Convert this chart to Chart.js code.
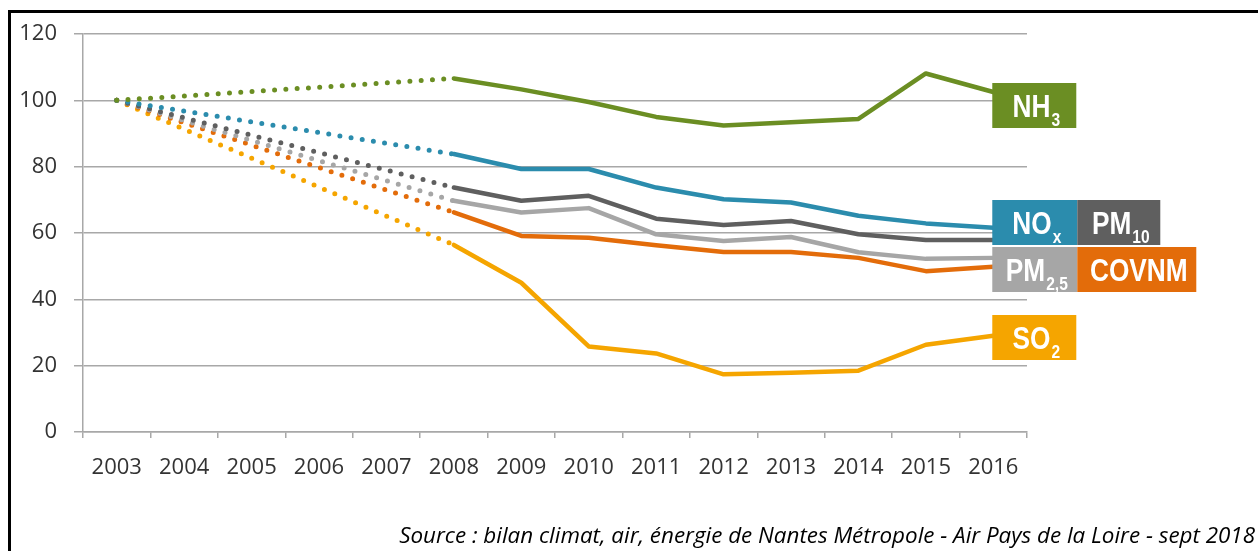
<!DOCTYPE html>
<html>
<head>
<meta charset="utf-8">
<script src="https://cdn.jsdelivr.net/npm/chart.js@4/dist/chart.umd.min.js"></script>
<style>
  body { margin: 0; background: #fff; }
  #wrap { position: absolute; left: 0; top: 0; width: 1258px; height: 551px; overflow: hidden; }
  #frame { position: absolute; left: 8px; top: 10px; width: 1300px; height: 600px;
           border-top: 3px solid #000; border-left: 3px solid #000; }
  #chart { position: absolute; left: 0; top: 0; }
  #source { position: absolute; right: 3px; top: 519px; white-space: nowrap;
            font: italic 22.4px "Open Sans", sans-serif; color: #000; }
</style>
</head>
<body>
<div id="wrap">
  <div id="frame"></div>
  <canvas id="chart" width="1258" height="551"></canvas>
  <div id="source">Source : bilan climat, air, énergie de Nantes Métropole - Air Pays de la Loire - sept 2018</div>
</div>
<script>
// indice base 100 en 2003, pas de valeurs entre 2004 et 2007
var years = ['2003', '2004', '2005', '2006', '2007', '2008', '2009', '2010', '2011', '2012', '2013', '2014', '2015', '2016'];
var nh3   = [100, null, null, null, null, 106.6, 103.3, 99.5, 95.0, 92.4, 93.4, 94.4, 108.1, 102.5];
var nox   = [100, null, null, null, null, 83.8, 79.3, 79.3, 73.7, 70.2, 69.2, 65.2, 62.9, 61.6];
var pm10  = [100, null, null, null, null, 73.7, 69.7, 71.2, 64.3, 62.4, 63.6, 59.6, 57.9, 57.9];
var pm25  = [100, null, null, null, null, 69.7, 66.2, 67.5, 59.6, 57.6, 58.8, 54.2, 52.2, 52.5];
var covnm = [100, null, null, null, null, 66.2, 59.1, 58.6, 56.3, 54.3, 54.3, 52.5, 48.5, 49.8];
var so2   = [100, null, null, null, null, 56.4, 45.0, 25.8, 23.7, 17.4, 17.9, 18.5, 26.3, 29.0];
var yTicks = [0, 20, 40, 60, 80, 100, 120];

var colors = {
    nh3: '#6b8e23',
    nox: '#2b8cad',
    pm10: '#5f5f5f',
    pm25: '#a6a6a6',
    covnm: '#e36c0a',
    so2: '#f5a500'
};

var gridColor = '#a8a8a8';
var boxFont = '"Liberation Sans", Arial, sans-serif';
var narrow = 0.82; // police étroite simulée
var firstSolid = years.indexOf('2008'); // la ligne pleine commence ici

// cartouches de droite : colonne, niveau du centre (axe y), largeur
var tags = [
    { main: 'NH', sub: '3', color: colors.nh3, col: 0, level: 98.5, w: 84 },
    { main: 'NO', sub: 'x', color: colors.nox, col: 0, level: 63.2, w: 85 },
    { main: 'PM', sub: '10', color: colors.pm10, col: 1, level: 63.2, w: 83 },
    { main: 'PM', sub: '2,5', color: colors.pm25, col: 0, level: 49.0, w: 85 },
    { main: 'COVNM', sub: '', color: colors.covnm, col: 1, level: 49.0, w: 119 },
    { main: 'SO', sub: '2', color: colors.so2, col: 0, level: 28.5, w: 84 }
];

function serie(label, values, color) {
    return {
        label: label,
        data: values,
        borderColor: color,
        backgroundColor: color,
        borderWidth: 4.5,
        borderCapStyle: 'round',
        borderJoinStyle: 'round',
        pointRadius: 0,
        tension: 0,
        spanGaps: true,
        segment: {
            // pointillés entre 2003 et 2008
            borderDash: function(ctx) { return ctx.p1DataIndex <= firstSolid ? [0, 11.3] : undefined; },
            borderWidth: function(ctx) { return ctx.p1DataIndex <= firstSolid ? 5 : undefined; }
        }
    };
}

function narrowText(c, text, x, y) {
    c.save();
    c.translate(x, y);
    c.scale(narrow, 1);
    c.fillText(text, 0, 0);
    c.restore();
}

var tagPlugin = {
    id: 'tags',
    afterDatasetsDraw: function(chart) {
        var c = chart.ctx;
        var xs = chart.scales.x, ys = chart.scales.y;
        var x0 = xs.getPixelForValue(years.length - 1) - 1;
        var h = 45;
        var bigFont = 'bold 32px ' + boxFont;
        var smallFont = 'bold 19px ' + boxFont;
        c.save();
        tags.forEach(function(t) {
            var left = x0 + t.col * 85;
            var top = Math.round(ys.getPixelForValue(t.level) - h / 2);
            c.fillStyle = t.color;
            c.fillRect(left, top, t.w, h);
            c.font = bigFont;
            var mw = c.measureText(t.main).width * narrow;
            c.font = smallFont;
            var sw = t.sub ? c.measureText(t.sub).width * narrow + 1 : 0;
            var tx = left + (t.w - mw - sw) / 2 + 2;
            c.fillStyle = '#fff';
            c.textBaseline = 'alphabetic';
            c.textAlign = 'left';
            c.font = bigFont;
            narrowText(c, t.main, tx, top + 34);
            if (t.sub) {
                c.font = smallFont;
                narrowText(c, t.sub, tx + mw + 1, top + 42.5);
            }
        });
        c.restore();
    }
};

var config = {
    type: 'line',
    data: {
        labels: years,
        datasets: [
            serie('NH3', nh3, colors.nh3),
            serie('NOx', nox, colors.nox),
            serie('PM10', pm10, colors.pm10),
            serie('PM2,5', pm25, colors.pm25),
            serie('COVNM', covnm, colors.covnm),
            serie('SO2', so2, colors.so2)
        ]
    },
    options: {
        responsive: false,
        animation: false,
        layout: { padding: { left: 0, top: 34, right: 231, bottom: 0 } },
        plugins: {
            legend: { display: false },
            tooltip: { enabled: false }
        },
        scales: {
            x: {
                offset: true,
                afterFit: function(scale) { scale.height = 119; },
                grid: { drawOnChartArea: false, tickLength: 6, color: gridColor, lineWidth: 1.5, offset: true },
                border: { display: true, color: gridColor, width: 1.5 },
                ticks: {
                    autoSkip: false, maxRotation: 0, padding: 17,
                    color: '#333',
                    font: { family: '"Open Sans", sans-serif', size: 22 }
                }
            },
            y: {
                min: 0,
                max: 120,
                afterFit: function(scale) { scale.width = 83; },
                afterBuildTicks: function(scale) {
                    scale.ticks = yTicks.map(function(v) { return { value: v }; });
                },
                grid: { color: gridColor, lineWidth: 1.5, tickLength: 9 },
                border: { display: true, color: gridColor, width: 1.5 },
                ticks: {
                    padding: 17,
                    color: '#333',
                    font: { family: '"Open Sans", sans-serif', size: 22 }
                }
            }
        }
    },
    plugins: [tagPlugin]
};

window.onload = function() {
    var ctx = document.getElementById('chart');
    window.myLine = new Chart(ctx, config);
};
</script>
</body>
</html>
